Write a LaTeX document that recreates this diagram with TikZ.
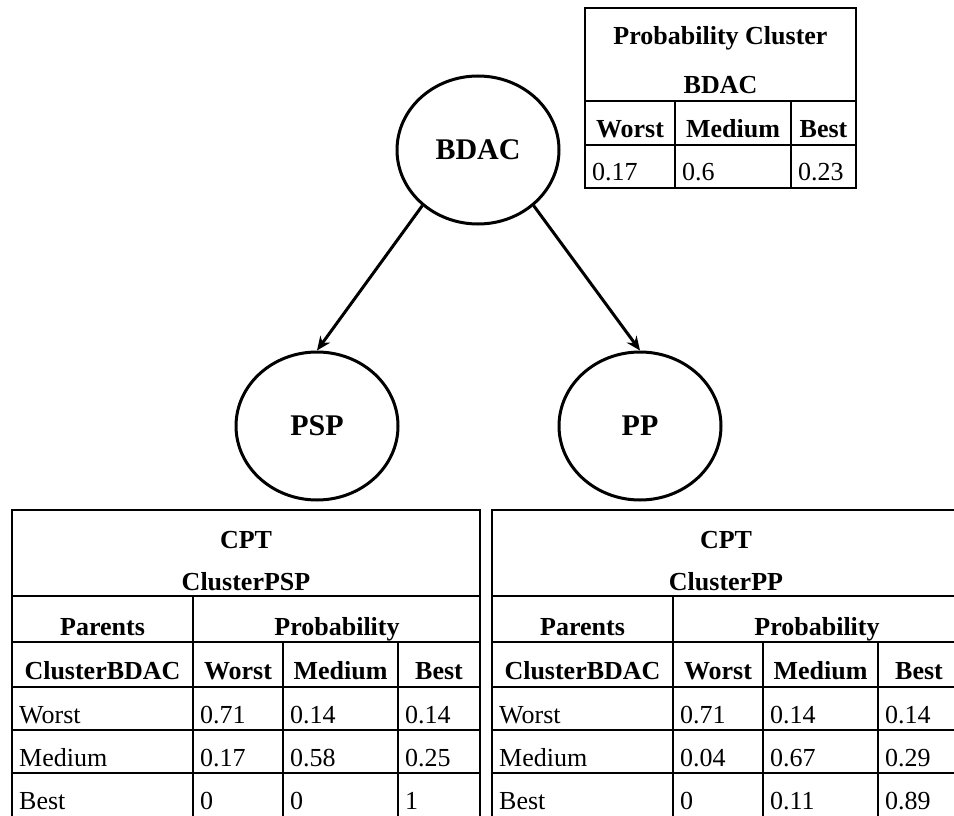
\documentclass[tikz,border=0pt]{standalone}
\usepackage{fontspec}
\setmainfont{Liberation Serif}
\usetikzlibrary{shapes.geometric,arrows.meta}
\tikzset{
  tbl/.style={line width=1.8pt},
  hd/.style={font=\bfseries\fontsize{26}{31}\selectfont, anchor=base, inner sep=0pt},
  dat/.style={font=\fontsize{26}{31}\selectfont, anchor=base west, inner sep=0pt},
  bnode/.style={ellipse, draw, line width=3pt, minimum width=162pt, minimum height=148pt,
    inner sep=0pt, font=\bfseries\fontsize{30}{36}\selectfont},
  arr/.style={line width=3pt, -{Stealth[length=14pt,width=12pt]}}
}
\begin{document}
\begin{tikzpicture}[x=1pt,y=-1pt]
\useasboundingbox (0,0) rectangle (954,816);
\clip (0,0) rectangle (954,816);
% Bayesian network
\node[bnode] (bdac) at (478,150) {BDAC};
\node[bnode] (psp) at (317,426) {PSP};
\node[bnode] (pp) at (640,426) {PP};
\draw[arr] (bdac.-135) -- (psp.north);
\draw[arr] (bdac.-45) -- (pp.north);
% top-right table
\draw[tbl] (585,8) rectangle (856,188);
\draw[tbl] (585,101) -- (856,101);
\draw[tbl] (585,145) -- (856,145);
\draw[tbl] (675,101) -- (675,188);
\draw[tbl] (791,101) -- (791,188);
\node[hd] (pc1) at (720.5,45) {Probability Cluster};
\node[hd] (pc2) at (720.5,93) {BDAC};
\node[hd] (pw) at (630,137) {Worst};
\node[hd] (pm) at (733,137) {Medium};
\node[hd] (pb) at (823.5,137) {Best};
\node[dat] (pv1) at (592,180) {0.17};
\node[dat] (pv2) at (682,180) {0.6};
\node[dat] (pv3) at (798,180) {0.23};
% bottom tables
\foreach \dx/\pre/\ttl/\va/\vb/\vc/\vd/\ve/\vf/\vg/\vh/\vi in {
  0/L-/ClusterPSP/0.71/0.14/0.14/0.17/0.58/0.25/0/0/1,
  480/R-/ClusterPP/0.71/0.14/0.14/0.04/0.67/0.29/0/0.11/0.89}{
\begin{scope}[xshift=\dx pt, name prefix=\pre]
  \draw[tbl] (12,510) rectangle (480,820);
  \foreach \yy in {596,642,687,730,773} \draw[tbl] (12,\yy) -- (480,\yy);
  \draw[tbl] (193,596) -- (193,820);
  \draw[tbl] (283,642) -- (283,820);
  \draw[tbl] (398,642) -- (398,820);
  \node[hd] (cpt) at (246,548) {CPT};
  \node[hd] (ttl) at (246,590) {\ttl};
  \node[hd] (par) at (102.5,635) {Parents};
  \node[hd] (prob) at (337,635) {Probability};
  \node[hd] (cb) at (102.5,679) {ClusterBDAC};
  \node[hd] (hw) at (238,679) {Worst};
  \node[hd] (hm) at (340.5,679) {Medium};
  \node[hd] (hb) at (439,679) {Best};
  \node[dat] (r1) at (19,723) {Worst};
  \node[dat] (r1a) at (200,723) {\va};
  \node[dat] (r1b) at (290,723) {\vb};
  \node[dat] (r1c) at (405,723) {\vc};
  \node[dat] (r2) at (19,766) {Medium};
  \node[dat] (r2a) at (200,766) {\vd};
  \node[dat] (r2b) at (290,766) {\ve};
  \node[dat] (r2c) at (405,766) {\vf};
  \node[dat] (r3) at (19,809) {Best};
  \node[dat] (r3a) at (200,809) {\vg};
  \node[dat] (r3b) at (290,809) {\vh};
  \node[dat] (r3c) at (405,809) {\vi};
\end{scope}}
\end{tikzpicture}
\end{document}
